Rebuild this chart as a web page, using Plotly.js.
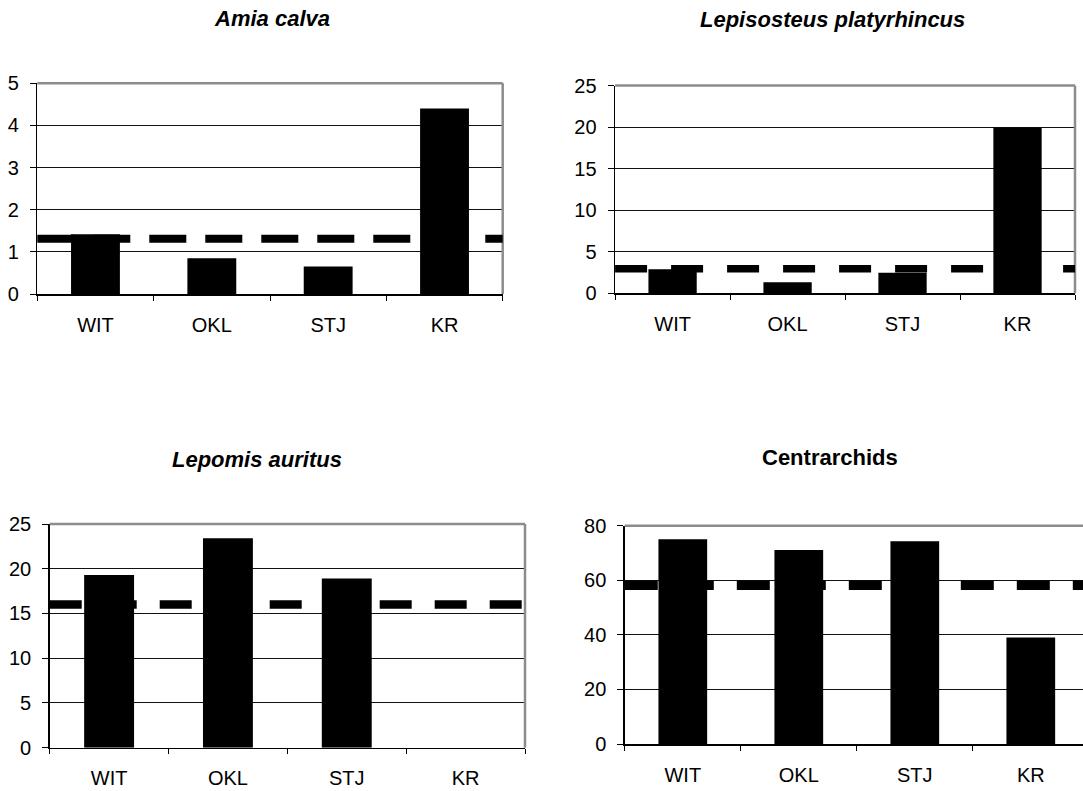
<!DOCTYPE html>
<html>
<head>
<meta charset="utf-8">
<script src="https://cdn.plot.ly/plotly-3.0.1.min.js"></script>
<style>
  html, body { margin: 0; padding: 0; overflow: hidden; background: #fff; }
  #chart { width: 1100px; height: 791px; }
</style>
</head>
<body>
<div id="chart"></div>
<script>
// ---- data ----
const categories = ['WIT', 'OKL', 'STJ', 'KR'];

const amiaTitle = 'Amia calva';
const amiaValues = [1.42, 0.85, 0.65, 4.40];
const amiaMean = 1.31;

const lepisosteusTitle = 'Lepisosteus platyrhincus';
const lepisosteusValues = [2.9, 1.32, 2.48, 19.95];
const lepisosteusMean = 2.95;

const lepomisTitle = 'Lepomis auritus';
const lepomisValues = [19.3, 23.4, 18.9, 0];
const lepomisMean = 16.0;

const centrarchidsTitle = 'Centrarchids';
const centrarchidsValues = [75.0, 71.1, 74.3, 39.0];
const centrarchidsMean = 58.2;

// ---- layout (pixel geometry) ----
const W = 1100, H = 791;
const FONT = 'Liberation Sans, Arial, sans-serif';

const panels = [
  {title: amiaTitle, values: amiaValues, mean: amiaMean, range: [0, 5], dtick: 1,
   xd: [37.3, 502.7], yd: [83.3, 294], dash: '37px,19px', dashW: 8, italic: true,
   tx: 272, ty: 18.5, tanchor: 'center'},
  {title: lepisosteusTitle, values: lepisosteusValues, mean: lepisosteusMean, range: [0, 25], dtick: 5,
   xd: [615.1, 1075], yd: [85.6, 293.3], dash: '32px,24px', dashW: 7.5, italic: true,
   tx: 698, ty: 19.5, tanchor: 'left'},
  {title: lepomisTitle, values: lepomisValues, mean: lepomisMean, range: [0, 25], dtick: 5,
   xd: [49.7, 525], yd: [524, 747.7], dash: '32px,23px', dashW: 8.5, italic: true,
   tx: 170, ty: 459, tanchor: 'left'},
  {title: centrarchidsTitle, values: centrarchidsValues, mean: centrarchidsMean, range: [0, 80], dtick: 20,
   xd: [624.8, 1088.8], yd: [525.7, 744], dash: '33px,23px', dashW: 9.5, italic: false,
   tx: 830, ty: 457, tanchor: 'center'}
];

const traces = [];
const layout = {
  width: W, height: H,
  margin: {l: 0, r: 0, t: 0, b: 0},
  paper_bgcolor: '#fff', plot_bgcolor: '#fff',
  showlegend: false,
  bargap: 0.58,
  font: {family: FONT, color: '#000', size: 20},
  shapes: [], annotations: []
};

panels.forEach((p, i) => {
  const n = i === 0 ? '' : String(i + 1);
  const xa = 'x' + n, ya = 'y' + n;
  traces.push({
    type: 'bar', x: categories, y: p.values,
    xaxis: xa, yaxis: ya,
    marker: {color: '#000', line: {width: 0}},
    hoverinfo: 'x+y'
  });
  layout['xaxis' + n] = {
    domain: [p.xd[0] / W, p.xd[1] / W],
    anchor: ya, type: 'category', range: [-0.5, 3.5],
    tickson: 'boundaries', ticks: 'outside', ticklen: 5, tickwidth: 1, tickcolor: '#000',
    showline: true, linecolor: '#000', linewidth: 1.5,
    showgrid: false, zeroline: false,
    tickfont: {family: FONT, size: 20, color: '#000'},
    ticklabelstandoff: 12, fixedrange: true
  };
  layout['yaxis' + n] = {
    domain: [1 - p.yd[1] / H, 1 - p.yd[0] / H],
    anchor: xa, range: p.range, dtick: p.dtick, tick0: 0,
    ticks: 'outside', ticklen: 6, tickwidth: 1, tickcolor: '#000',
    showline: true, linecolor: '#000', linewidth: 1.5,
    showgrid: true, gridcolor: '#111', gridwidth: 1, zeroline: false,
    tickfont: {family: FONT, size: 20, color: '#000'},
    ticklabelstandoff: 7, fixedrange: true
  };
  // gray plot-area border (top and right)
  layout.shapes.push({type: 'line', xref: xa + ' domain', yref: ya + ' domain',
    x0: 0, x1: 1, y0: 1, y1: 1, line: {color: '#8c8c8c', width: 2.5}, layer: 'above'});
  layout.shapes.push({type: 'line', xref: xa + ' domain', yref: ya + ' domain',
    x0: 1, x1: 1, y0: 0, y1: 1, line: {color: '#8c8c8c', width: 2.5}, layer: 'above'});
  // mean dashed line
  layout.shapes.push({type: 'line', xref: xa + ' domain', yref: ya,
    x0: 0, x1: 1, y0: p.mean, y1: p.mean,
    line: {color: '#000', width: p.dashW, dash: p.dash}, layer: 'above'});
  // panel title
  layout.annotations.push({
    text: p.italic ? '<b><i>' + p.title + '</i></b>' : '<b>' + p.title + '</b>',
    xref: 'paper', yref: 'paper', x: p.tx / W, y: 1 - p.ty / H,
    xanchor: p.tanchor, yanchor: 'middle', showarrow: false,
    font: {family: FONT, size: 22, color: '#000'}
  });
});

Plotly.newPlot('chart', traces, layout, {displayModeBar: false, staticPlot: true});
</script>
</body>
</html>
